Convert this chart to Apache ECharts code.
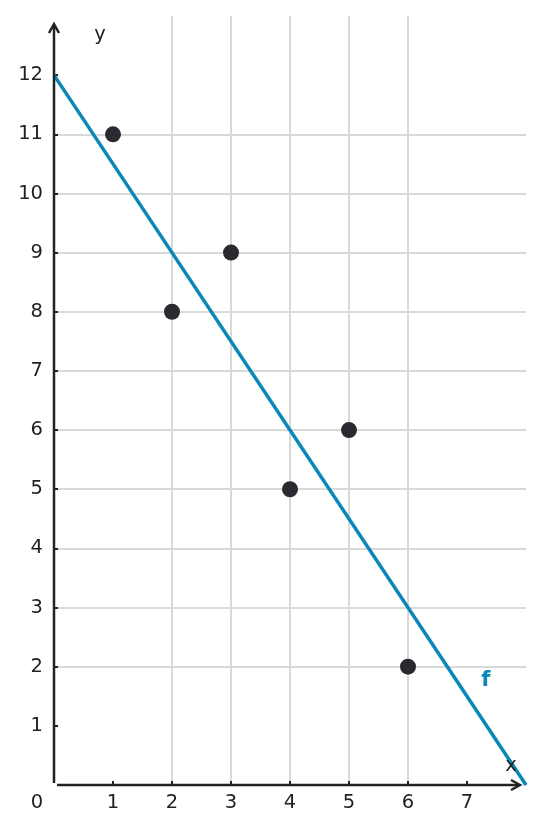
<!DOCTYPE html>
<html>
<head>
<meta charset="utf-8">
<script src="https://cdn.jsdelivr.net/npm/echarts@6/dist/echarts.min.js"></script>
<style>
html,body{margin:0;padding:0;background:#fff;}
#c{width:544px;height:833px;}
</style>
</head>
<body>
<div id="c"></div>
<script>
// Data
var pointsX = [1, 2, 3, 4, 5, 6];
var pointsY = [11, 8, 9, 5, 6, 2];
var lineX = [0, 8];
var lineY = [12, 0];
var xTickValues = [1, 2, 3, 4, 5, 6, 7];
var yTickValues = [1, 2, 3, 4, 5, 6, 7, 8, 9, 10, 11, 12];
var xRange = [0, 8];
var yRange = [0, 13];
var funcLabel = 'f';
var funcLabelPos = [7.32, 1.77];
var xAxisName = 'x';
var yAxisName = 'y';
var originLabel = '0';

var FONT = 'DejaVu Sans';
var FS = 19.5;
var TXT = '#222222';
var GRIDC = '#d9d9d9';

var chart = echarts.init(document.getElementById('c'), null, {renderer: 'canvas'});

var option = {
  backgroundColor: '#ffffff',
  animation: false,
  grid: {left: 54, right: 18, top: 16, bottom: 48, containLabel: false},
  xAxis: {
    type: 'value', min: xRange[0], max: xRange[1], interval: 1,
    axisLine: {show: false},
    axisTick: {show: true, inside: true, length: 4, customValues: xTickValues,
      lineStyle: {color: TXT, width: 2}},
    axisLabel: {show: true, customValues: xTickValues, margin: 8,
      fontFamily: FONT, fontSize: FS, color: TXT},
    splitLine: {show: true, showMinLine: false, showMaxLine: false,
      lineStyle: {color: GRIDC, width: 2}}
  },
  yAxis: {
    type: 'value', min: yRange[0], max: yRange[1], interval: 1,
    axisLine: {show: false},
    axisTick: {show: true, inside: true, length: 4, customValues: yTickValues,
      lineStyle: {color: TXT, width: 2}},
    axisLabel: {show: true, customValues: yTickValues, margin: 11,
      fontFamily: FONT, fontSize: FS, color: TXT},
    splitLine: {show: true, showMinLine: false, showMaxLine: false,
      lineStyle: {color: GRIDC, width: 2}}
  },
  series: [
    {
      type: 'line',
      data: lineX.map(function (x, i) { return [x, lineY[i]]; }),
      showSymbol: false,
      clip: false,
      lineStyle: {color: '#0a87b9', width: 3.5},
      z: 3
    },
    {
      type: 'scatter',
      data: pointsX.map(function (x, i) { return [x, pointsY[i]]; }),
      symbolSize: 16,
      itemStyle: {color: '#2a2a30', opacity: 1},
      z: 4
    }
  ]
};
chart.setOption(option);

function px(p) { return chart.convertToPixel({gridIndex: 0}, p); }
var o = px([0, 0]);
var xe = px([xRange[1], 0]);
var ye = px([0, yRange[1]]);
var xTip = xe[0] - 6;
var yTip = ye[1] + 8;
var fl = px(funcLabelPos);

var arrowStyle = {stroke: TXT, lineWidth: 2.5, fill: null, lineJoin: 'miter', lineCap: 'butt'};
chart.setOption({
  graphic: [
    {type: 'line', z: 10, shape: {x1: o[0], y1: o[1] - 2, x2: o[0], y2: yTip + 1}, style: {stroke: TXT, lineWidth: 2.5}},
    {type: 'line', z: 10, shape: {x1: o[0] + 3, y1: o[1], x2: xTip - 1, y2: o[1]}, style: {stroke: TXT, lineWidth: 2.5}},
    {type: 'polyline', z: 10, shape: {points: [[o[0] - 5, yTip + 9], [o[0], yTip], [o[0] + 5, yTip + 9]]}, style: arrowStyle},
    {type: 'polyline', z: 10, shape: {points: [[xTip - 9, o[1] - 5], [xTip, o[1]], [xTip - 9, o[1] + 5]]}, style: arrowStyle},
    {type: 'text', z: 10, x: o[0] - 17, y: o[1] + 18, style: {text: originLabel, fontFamily: FONT, fontSize: FS, fill: TXT, align: 'center', verticalAlign: 'middle'}},
    {type: 'text', z: 10, x: xe[0] - 15, y: o[1] - 19, style: {text: xAxisName, fontFamily: FONT, fontSize: FS, fill: TXT, align: 'center', verticalAlign: 'middle'}},
    {type: 'text', z: 10, x: o[0] + 46, y: ye[1] + 19, style: {text: yAxisName, fontFamily: FONT, fontSize: FS, fill: TXT, align: 'center', verticalAlign: 'middle'}},
    {type: 'text', z: 10, x: fl[0], y: fl[1], style: {text: funcLabel, fontFamily: FONT, fontSize: 21, fontWeight: 'bold', fill: '#0a87b9', align: 'center', verticalAlign: 'middle'}}
  ]
});
</script>
</body>
</html>
